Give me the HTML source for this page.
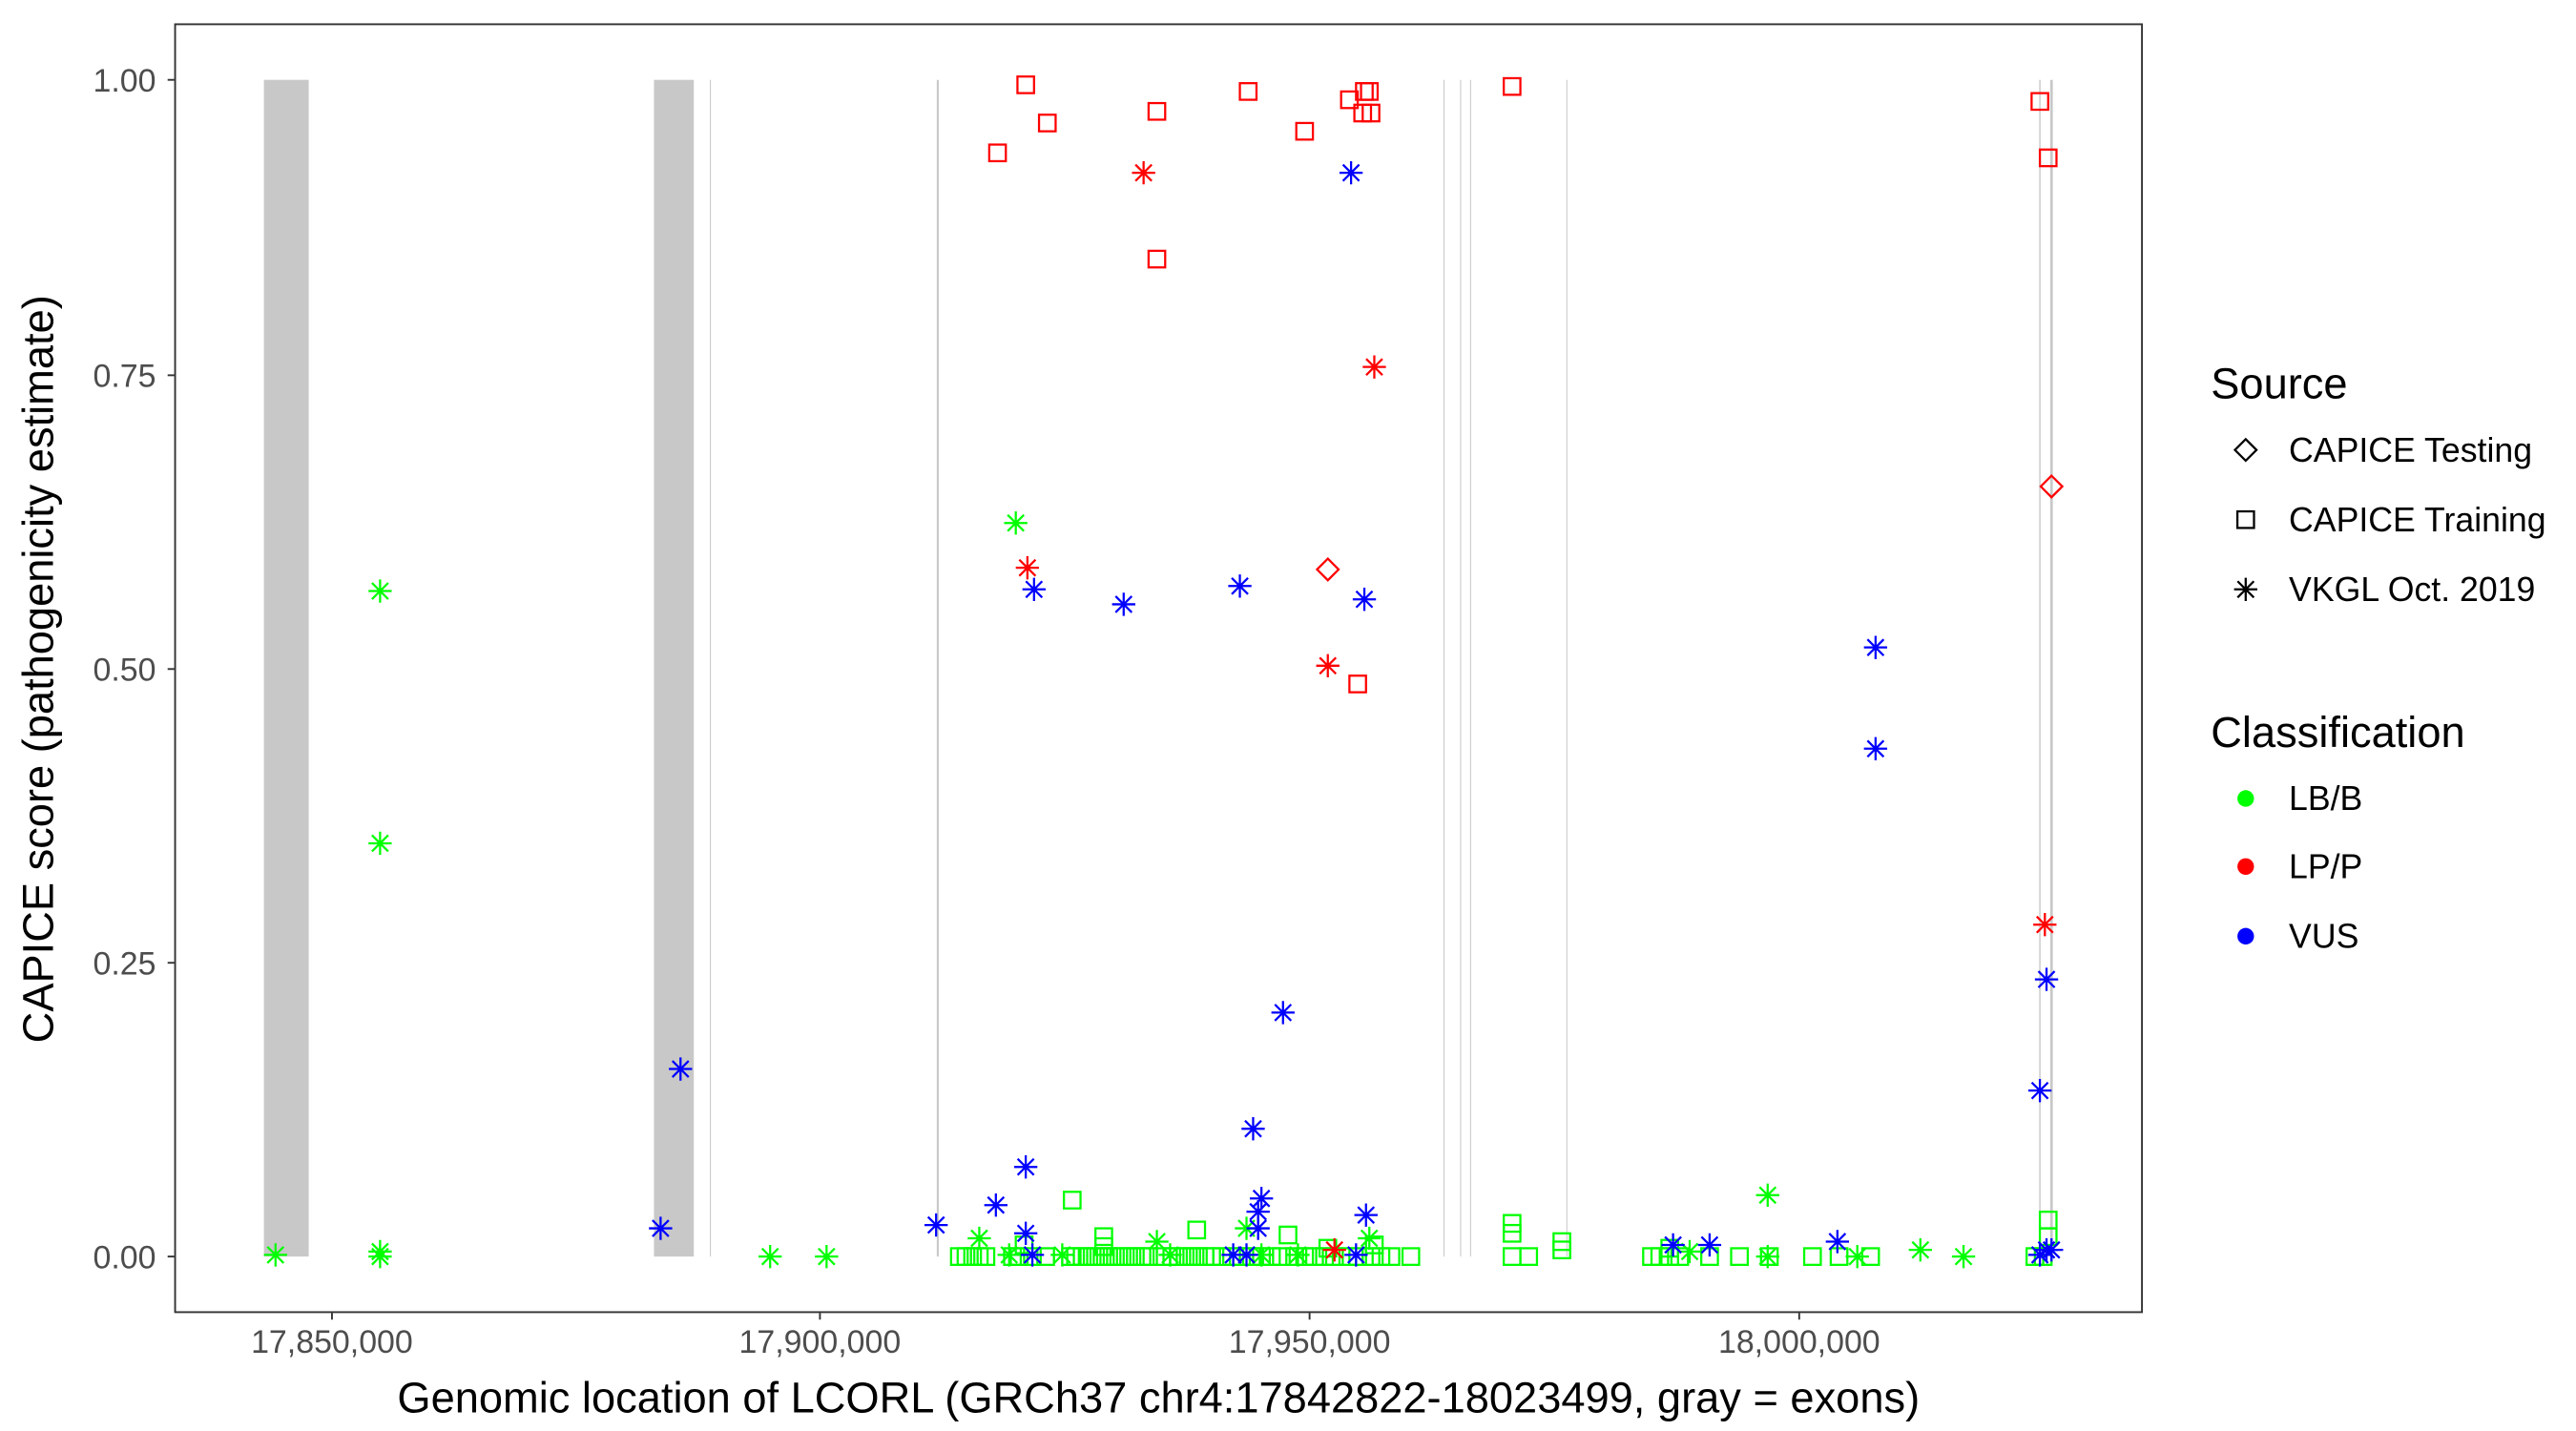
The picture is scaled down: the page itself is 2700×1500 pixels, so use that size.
<!DOCTYPE html>
<html><head><meta charset="utf-8"><style>
html,body{margin:0;padding:0;background:#fff;}
svg{display:block;font-family:"Liberation Sans",Arial,sans-serif;}
</style></head><body>
<svg id="s" width="2700" height="1500" viewBox="0 0 1552 862" xmlns="http://www.w3.org/2000/svg">
<rect x="0" y="0" width="1552" height="862" fill="#fff"/>
<g id="ex"></g>
<g id="pts"></g>
<rect x="105.5" y="14.5" width="1185" height="776" fill="none" stroke="#333" stroke-width="1.1"/>
<g fill="#4d4d4d" font-size="19.5" text-anchor="end">
<text x="94" y="55">1.00</text><text x="94" y="233">0.75</text><text x="94" y="410">0.50</text><text x="94" y="587">0.25</text><text x="94" y="764">0.00</text>
</g>
<g stroke="#333" stroke-width="1.1">
<line x1="101" x2="105" y1="48" y2="48"/><line x1="101" x2="105" y1="226" y2="226"/><line x1="101" x2="105" y1="403" y2="403"/><line x1="101" x2="105" y1="580" y2="580"/><line x1="101" x2="105" y1="757" y2="757"/>
<line x1="200" x2="200" y1="791" y2="795"/><line x1="494" x2="494" y1="791" y2="795"/><line x1="789" x2="789" y1="791" y2="795"/><line x1="1084" x2="1084" y1="791" y2="795"/>
</g>
<g fill="#4d4d4d" font-size="19.5" text-anchor="middle">
<text x="200" y="815">17,850,000</text><text x="494" y="815">17,900,000</text><text x="789" y="815">17,950,000</text><text x="1084" y="815">18,000,000</text>
</g>
<text x="698" y="851" font-size="26" text-anchor="middle">Genomic location of LCORL (GRCh37 chr4:17842822-18023499, gray = exons)</text>
<text transform="translate(32,403) rotate(-90)" font-size="26" text-anchor="middle">CAPICE score (pathogenicity estimate)</text>
<text x="1332" y="240" font-size="26">Source</text>
<text x="1379" y="278" font-size="20.5">CAPICE Testing</text>
<text x="1379" y="320" font-size="20.5">CAPICE Training</text>
<text x="1379" y="362" font-size="20.5">VKGL Oct. 2019</text>
<text x="1332" y="450" font-size="26">Classification</text>
<text x="1379" y="488" font-size="20.5">LB/B</text>
<text x="1379" y="529" font-size="20.5">LP/P</text>
<text x="1379" y="571" font-size="20.5">VUS</text>
<g id="leg"></g>
</svg>
<script>
var NS="http://www.w3.org/2000/svg";
function el(p,t,a){var e=document.createElementNS(NS,t);for(var k in a)e.setAttribute(k,a[k]);p.appendChild(e);return e;}
var ex=document.getElementById('ex');
el(ex,'rect',{x:159,y:48,width:27,height:709,fill:'#c8c8c8'});
el(ex,'rect',{x:394,y:48,width:24,height:709,fill:'#c8c8c8'});
[[428,0.6],[565,1.2],[870,0.6],[880,0.6],[886,0.6],[944,0.6],[1229,0.8],[1236,1.6]].forEach(function(l){
el(ex,'line',{x1:l[0],x2:l[0],y1:48,y2:757,stroke:'#c8c8c8','stroke-width':l[1]});});
var g=document.getElementById('pts');
var C={g:'#00ff00',r:'#ff0000',b:'#0000ff',k:'#000'};
function sq(p,x,y,c){el(p,'rect',{x:x-5,y:y-5,width:10,height:10,fill:'none',stroke:c,'stroke-width':1.3});}
function di(p,x,y,c){el(p,'path',{d:'M'+x+' '+(y-6.5)+'L'+(x+6.5)+' '+y+'L'+x+' '+(y+6.5)+'L'+(x-6.5)+' '+y+'Z',fill:'none',stroke:c,'stroke-width':1.3});}
function as(p,x,y,c){var r=7;el(p,'path',{d:'M'+(x-r)+' '+y+'H'+(x+r)+'M'+(x-r*0.7)+' '+(y-r*0.7)+'L'+(x+r*0.7)+' '+(y+r*0.7)+'M'+(x-r*0.7)+' '+(y+r*0.7)+'L'+(x+r*0.7)+' '+(y-r*0.7)+'M'+x+' '+(y-r)+'V'+(y+r),stroke:c,'stroke-width':1.3,fill:'none'});}
var gs=[578,582,586,590,594,610,614,622,630,645,648,652,656,660,664,668,672,676,680,684,688,692,700,706,710,714,718,722,726,730,736,742,748,754,760,766,772,780,786,792,798,804,812,818,826,832,838,850,911,921,995,1000,1006,1012,1030,1048,1066,1092,1108,1127,1226,1231];
gs.forEach(function(x){sq(g,x,757,C.g);});
[[646,723],[665,745],[721,741],[776,744],[911,737],[911,743],[941,748],[941,753],[1234,735],[1234,745],[665,751],[828,750],[800,752],[617,750],[1006,752]].forEach(function(p){sq(g,p[0],p[1],C.g);});
[[229,356],[229,508],[166,756],[229,754],[229,757],[464,757],[498,757],[612,315],[590,746],[1065,720],[1157,753],[1183,757],[1119,757],[751,740],[697,748],[825,746],[608,756],[1018,754],[1065,757],[782,756],[760,756],[640,756],[705,756]].forEach(function(p){as(g,p[0],p[1],C.g);});
[[601,92],[618,51],[631,74],[697,67],[697,156],[752,55],[786,79],[813,60],[822,55],[825,55],[821,68],[826,68],[911,52],[1229,61],[1234,95],[818,412]].forEach(function(p){sq(g,p[0],p[1],C.r);});
[[689,104],[828,221],[619,342],[800,401],[804,753],[1232,557]].forEach(function(p){as(g,p[0],p[1],C.r);});
di(g,800,343,C.r);di(g,1236,293,C.r);
[[814,104],[623,355],[677,364],[747,353],[822,361],[1130,390],[1130,451],[410,644],[398,740],[773,610],[755,680],[618,703],[600,726],[564,738],[760,722],[758,730],[758,740],[618,743],[823,732],[1233,590],[1229,657],[1008,750],[1030,750],[1107,748],[1233,753],[1229,756],[1236,753],[743,756],[751,756],[817,756],[622,756]].forEach(function(p){as(g,p[0],p[1],C.b);});
var lg=document.getElementById('leg');
di(lg,1353,271,C.k);sq(lg,1353,313,C.k);as(lg,1353,355,C.k);
el(lg,'circle',{cx:1353,cy:481,r:5,fill:C.g});
el(lg,'circle',{cx:1353,cy:522,r:5,fill:C.r});
el(lg,'circle',{cx:1353,cy:564,r:5,fill:C.b});
</script>
</body></html>
